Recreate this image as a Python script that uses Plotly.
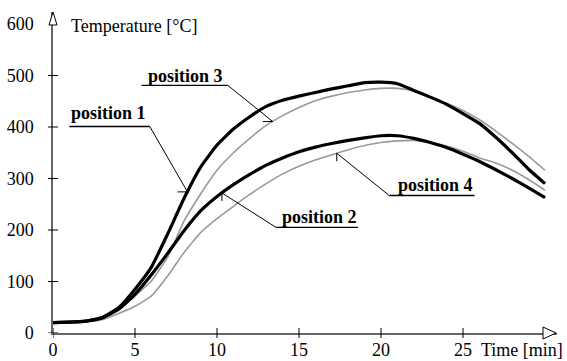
import numpy as np
import plotly.graph_objects as go

# ---- data ----
time_min = list(range(31))
pos1 = [20, 21, 23, 30, 49, 85, 128, 193, 262, 322, 365, 396, 420, 440, 452, 460,
        467, 474, 480, 486, 487, 484, 471, 458, 444, 426, 407, 380, 350, 318, 290]
pos2 = [20, 21, 23, 29, 46, 75, 113, 155, 199, 237, 265, 288, 308, 326, 340, 352,
        361, 368, 374, 379, 383, 383, 378, 370, 360, 347, 333, 317, 300, 282, 263]
pos3 = [20, 21, 23, 29, 45, 72, 101, 148, 218, 270, 316, 350, 378, 403, 422, 438,
        451, 460, 467, 472, 475, 475, 470, 459, 446, 432, 414, 392, 368, 343, 316]
pos4 = [20, 21, 22, 26, 38, 52, 72, 111, 157, 195, 222, 246, 269, 290, 309, 324,
        336, 346, 356, 364, 370, 373, 374, 370, 363, 353, 340, 330, 316, 298, 277]

x_ticks = [0, 5, 10, 15, 20, 25]
y_ticks = [0, 100, 200, 300, 400, 500, 600]
labels = ["position 1", "position 2", "position 3", "position 4"]

FONT = "Liberation Serif, Times New Roman, serif"
FS = 18
XMAX = 30.73
YMAX = 623.3

fig = go.Figure()
series = [
    (pos3, "#9a9a9a", 1.6),
    (pos4, "#9a9a9a", 1.6),
    (pos1, "black", 3.2),
    (pos2, "black", 3.2),
]
for vals, col, w in series:
    fig.add_trace(go.Scatter(x=time_min, y=vals, mode="lines",
                             line=dict(color=col, width=w, shape="spline", smoothing=0.4),
                             hoverinfo="skip", showlegend=False))

shapes = []
annotations = []

# crossing tick marks
for v in y_ticks[:-1]:
    shapes.append(dict(type="line", xref="paper", yref="y", xsizemode="pixel", xanchor=0,
                       x0=-5, x1=5, y0=v, y1=v, line=dict(color="black", width=1)))
for v in x_ticks:
    shapes.append(dict(type="line", xref="x", yref="paper", ysizemode="pixel", yanchor=0,
                       y0=-5, y1=5, x0=v, x1=v, line=dict(color="black", width=1)))

# axis arrows (open triangles)
shapes.append(dict(type="path", xref="paper", yref="paper", xsizemode="pixel", ysizemode="pixel",
                   xanchor=0, yanchor=1, path="M0,0 L-4,-13 L4,-13 Z",
                   fillcolor="white", line=dict(color="black", width=1), layer="above"))
shapes.append(dict(type="path", xref="paper", yref="paper", xsizemode="pixel", ysizemode="pixel",
                   xanchor=1, yanchor=0, path="M-1,0 L-14,6 L-14,-6 Z",
                   fillcolor="white", line=dict(color="black", width=1), layer="above"))

# label callouts: (text, text_t, text_T, underline t0, t1, T, tail_t, head series, head_t, tick dir)
callouts = [
    (labels[0], 3.39, 427, 1.0, 5.9, 401, 5.9, pos1, 8.2, "h"),
    (labels[2], 8.1, 500, 5.4, 10.65, 481, 10.65, pos3, 13.4, "h"),
    (labels[1], 16.25, 225, 13.6, 18.6, 205, 13.6, pos2, 10.3, "v"),
    (labels[3], 23.3, 287, 20.5, 25.7, 267, 20.5, pos4, 17.3, "v"),
]
for txt, tx, ty, u0, u1, uy, tail_t, ser, head_t, tdir in callouts:
    head_T = float(np.interp(head_t, time_min, ser))
    annotations.append(dict(x=tx, y=ty, xref="x", yref="y", text="<b>%s</b>" % txt,
                            showarrow=False, font=dict(family=FONT, size=FS, color="black"),
                            xanchor="center", yanchor="middle"))
    shapes.append(dict(type="line", xref="x", yref="y", x0=u0, x1=u1, y0=uy, y1=uy,
                       line=dict(color="black", width=1.3)))
    shapes.append(dict(type="line", xref="x", yref="y", x0=tail_t, y0=uy, x1=head_t, y1=head_T,
                       line=dict(color="black", width=1)))
    if tdir == "h":
        shapes.append(dict(type="line", xref="x", yref="y", xsizemode="pixel", xanchor=head_t,
                           x0=-10, x1=0, y0=head_T, y1=head_T, line=dict(color="black", width=1)))
    else:
        shapes.append(dict(type="line", xref="x", yref="y", ysizemode="pixel", yanchor=head_T,
                           y0=-8, y1=0, x0=head_t, x1=head_t, line=dict(color="black", width=1)))

annotations.append(dict(x=0.95, y=597, xref="x", yref="y", text="Temperature [°C]",
                        showarrow=False, xanchor="left", yanchor="middle",
                        font=dict(family=FONT, size=FS, color="black")))
annotations.append(dict(x=26.0, y=-0.054, xref="x", yref="paper", text="Time [min]",
                        showarrow=False, xanchor="left", yanchor="middle",
                        font=dict(family=FONT, size=FS, color="black")))

fig.update_layout(
    width=567, height=361,
    margin=dict(l=53, r=10, t=12, b=28, pad=0, autoexpand=False),
    paper_bgcolor="white", plot_bgcolor="white",
    showlegend=False,
    font=dict(family=FONT, size=FS, color="black"),
    shapes=shapes, annotations=annotations,
    xaxis=dict(range=[0, XMAX], tickvals=x_ticks, ticktext=[str(v) for v in x_ticks],
               ticks="", showline=True, linecolor="#666666", linewidth=1.5,
               showgrid=False, zeroline=False, ticklabelstandoff=0, automargin=False,
               tickfont=dict(family=FONT, size=FS, color="black")),
    yaxis=dict(range=[0, YMAX], tickvals=y_ticks, ticktext=[str(v) for v in y_ticks],
               ticks="", showline=True, linecolor="#666666", linewidth=1.5,
               showgrid=False, zeroline=False, ticklabelstandoff=14, automargin=False,
               tickfont=dict(family=FONT, size=FS, color="black")),
)

fig.write_html("out.html")
